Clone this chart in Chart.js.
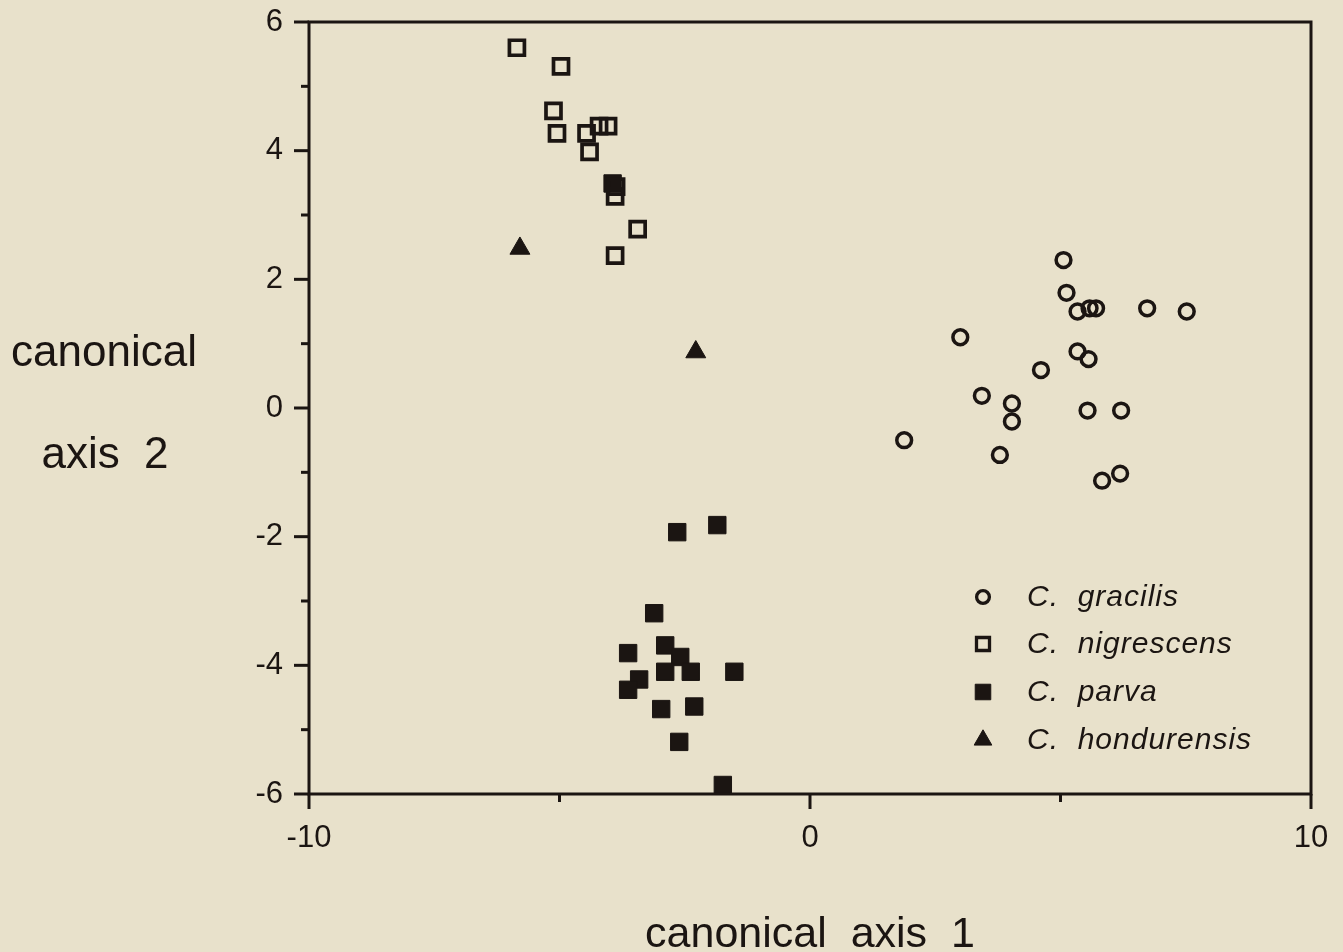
<!DOCTYPE html>
<html><head><meta charset="utf-8">
<script src="https://cdn.jsdelivr.net/npm/chart.js@4.4.1/dist/chart.umd.min.js"></script>
<style>html,body{margin:0;padding:0;background:#e8e1cb;}</style>
</head><body>
<canvas id="c" width="1343" height="952"></canvas>
<script>
// ---- data ----
const gracilisX = [5.06, 5.12, 5.34, 5.58, 5.71, 6.73, 7.52, 3.00, 5.34, 5.56, 4.61, 3.43, 4.03, 4.03, 5.54, 6.21, 1.88, 3.79, 6.19, 5.83];
const gracilisY = [2.30, 1.79, 1.50, 1.55, 1.55, 1.55, 1.50, 1.10, 0.88, 0.76, 0.59, 0.19, 0.07, -0.21, -0.04, -0.04, -0.50, -0.73, -1.02, -1.13];
const nigrescensX = [-5.85, -4.97, -5.12, -5.05, -4.46, -4.21, -4.03, -4.40, -3.87, -3.89, -3.44, -3.89];
const nigrescensY = [5.60, 5.31, 4.62, 4.27, 4.27, 4.38, 4.38, 3.98, 3.44, 3.29, 2.78, 2.37];
const parvaX = [-3.94, -2.65, -1.85, -3.11, -3.63, -2.89, -2.59, -2.89, -2.38, -1.51, -3.41, -3.63, -2.97, -2.31, -2.61, -1.74];
const parvaY = [3.49, -1.93, -1.82, -3.19, -3.81, -3.69, -3.87, -4.10, -4.10, -4.10, -4.22, -4.38, -4.68, -4.64, -5.19, -5.86];
const hondurensisX = [-5.79, -2.28];
const hondurensisY = [2.48, 0.87];
const seriesNames = ['C.  gracilis', 'C.  nigrescens', 'C.  parva', 'C.  hondurensis'];
const xTickLabels = ['-10', '0', '10'];
const xMinorTicks = [-5, 5];
const xTitle = 'canonical  axis  1';
const yTitleLines = ['canonical', 'axis  2'];

const INK = '#1b1512';
const BG = '#e8e1cb';
const FONT = "'Liberation Sans', Arial, Helvetica, sans-serif";

function pts(xs, ys) { return xs.map((x, i) => ({ x: x, y: ys[i] })); }

const markerStyles = [
  { pointStyle: 'circle', radius: 7.4, borderWidth: 3.5, fill: 'rgba(0,0,0,0)' },
  { pointStyle: 'rect', radius: 10.6, borderWidth: 3.7, fill: 'rgba(0,0,0,0)' },
  { pointStyle: 'rect', radius: 12.3, borderWidth: 1, fill: INK },
  { pointStyle: 'triangle', radius: 11.5, borderWidth: 1, fill: INK }
];
const legendMarkers = [
  { pointStyle: 'circle', radius: 6.4, borderWidth: 3.3, fill: 'rgba(0,0,0,0)' },
  { pointStyle: 'rect', radius: 9.2, borderWidth: 3.3, fill: 'rgba(0,0,0,0)' },
  { pointStyle: 'rect', radius: 11, borderWidth: 1, fill: INK },
  { pointStyle: 'triangle', radius: 10.2, borderWidth: 1, fill: INK }
];

const allData = [pts(gracilisX, gracilisY), pts(nigrescensX, nigrescensY), pts(parvaX, parvaY), pts(hondurensisX, hondurensisY)];

const datasets = allData.map((d, i) => ({
  label: seriesNames[i],
  data: d,
  showLine: false,
  clip: false,
  pointStyle: markerStyles[i].pointStyle,
  pointRadius: markerStyles[i].radius,
  pointBorderWidth: markerStyles[i].borderWidth,
  pointBackgroundColor: markerStyles[i].fill,
  pointBorderColor: INK,
  pointHoverRadius: markerStyles[i].radius
}));

const decor = {
  id: 'decor',
  beforeDraw(chart) {
    const ctx = chart.ctx;
    ctx.save();
    ctx.fillStyle = BG;
    ctx.fillRect(0, 0, chart.width, chart.height);
    ctx.restore();
  },
  afterDraw(chart) {
    const ctx = chart.ctx;
    const a = chart.chartArea;
    const xs = chart.scales.x, ys = chart.scales.y;
    ctx.save();
    ctx.strokeStyle = INK;
    ctx.lineCap = 'butt';
    ctx.lineWidth = 3;
    ctx.strokeRect(a.left, a.top, a.right - a.left, a.bottom - a.top);
    for (let v = -6; v <= 6; v++) {
      const p = ys.getPixelForValue(v);
      const len = (v % 2 === 0) ? 15 : 8;
      ctx.beginPath(); ctx.moveTo(a.left - len, p); ctx.lineTo(a.left, p); ctx.stroke();
    }
    xTickLabels.forEach(l => {
      const p = xs.getPixelForValue(Number(l));
      ctx.beginPath(); ctx.moveTo(p, a.bottom); ctx.lineTo(p, a.bottom + 15); ctx.stroke();
    });
    xMinorTicks.forEach(v => {
      const p = xs.getPixelForValue(v);
      ctx.beginPath(); ctx.moveTo(p, a.bottom); ctx.lineTo(p, a.bottom + 8); ctx.stroke();
    });
    ctx.fillStyle = INK;
    ctx.font = '44px ' + FONT;
    ctx.textAlign = 'center';
    ctx.textBaseline = 'alphabetic';
    ctx.fillText(yTitleLines[0], 104, 366);
    ctx.fillText(yTitleLines[1], 105, 468);
    const rows = [597, 644, 692, 740];
    seriesNames.forEach((name, i) => {
      const m = legendMarkers[i];
      ctx.fillStyle = m.fill;
      ctx.strokeStyle = INK;
      ctx.lineWidth = m.borderWidth;
      Chart.helpers.drawPoint(ctx, { pointStyle: m.pointStyle, radius: m.radius, borderWidth: m.borderWidth, rotation: 0 }, 983, rows[i]);
      ctx.fillStyle = INK;
      ctx.font = 'italic 30px ' + FONT;
      ctx.textAlign = 'left';
      ctx.textBaseline = 'middle';
      try { ctx.letterSpacing = '1px'; } catch (e) {}
      ctx.fillText(name, 1027, rows[i] + 1);
      try { ctx.letterSpacing = '0px'; } catch (e) {}
    });
    ctx.restore();
  }
};

new Chart(document.getElementById('c'), {
  type: 'scatter',
  data: { datasets: datasets },
  options: {
    responsive: false,
    animation: false,
    events: [],
    layout: { padding: { top: 22, right: 32, left: 0, bottom: 0 } },
    plugins: { legend: { display: false }, tooltip: { enabled: false } },
    scales: {
      x: {
        type: 'linear', min: -10, max: 10,
        grid: { display: false, drawTicks: false, tickLength: 0 },
        border: { display: false },
        ticks: { stepSize: 10, padding: 26, color: INK, font: { size: 31, family: FONT },
          callback: (v) => xTickLabels.includes(String(v)) ? String(v) : '', maxRotation: 0, autoSkip: false },
        title: { display: true, text: xTitle, color: INK, font: { size: 43, family: FONT, lineHeight: 0.8 }, padding: { top: 0, bottom: 0 } },
        afterFit: (s) => { s.height = 158; s.paddingLeft = 0; s.paddingRight = 0; }
      },
      y: {
        type: 'linear', min: -6, max: 6,
        grid: { display: false, drawTicks: false, tickLength: 0 },
        border: { display: false },
        ticks: { stepSize: 2, padding: 26, color: INK, font: { size: 31, family: FONT } },
        afterFit: (s) => { s.width = 309; s.paddingTop = 0; s.paddingBottom = 0; }
      }
    }
  },
  plugins: [decor]
});
</script>
</body></html>
